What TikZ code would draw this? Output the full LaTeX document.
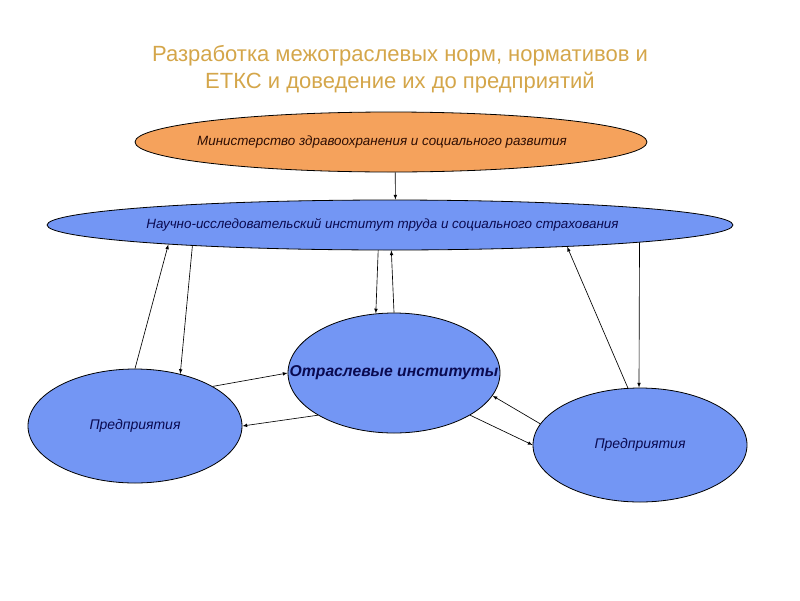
\documentclass[tikz,border=0pt]{standalone}
\usepackage{fontspec}
\setmainfont{Liberation Sans}
\usetikzlibrary{shapes.geometric}

\definecolor{titlegold}{HTML}{D4A64A}
\definecolor{ovalblue}{HTML}{7396F4}
\definecolor{ovalorange}{HTML}{F5A25C}
\definecolor{inknavy}{HTML}{0A0A50}
\definecolor{inkbrown}{HTML}{2E0E04}

\tikzset{
  oval/.style={ellipse, draw=black, line width=0.8pt, inner sep=0pt},
  blueoval/.style={oval, fill=ovalblue, text=inknavy},
  link/.style={-latex, line width=0.65pt},
}

\begin{document}
\begin{tikzpicture}[x=1pt,y=-1pt]
\useasboundingbox (0,0) rectangle (800,600);
\node[text=titlegold, font=\fontsize{22}{27}\selectfont, align=center] (title) at (400,69)
   {Разработка межотраслевых норм, нормативов и\\ЕТКС и доведение их до предприятий};
\node[oval, fill=ovalorange, text=inkbrown, minimum width=512pt, minimum height=60pt,
   font=\fontsize{13.4}{15}\selectfont\itshape] (min) at (391,142)
   {\makebox[0pt]{Министерство здравоохранения и социального развития\hspace{18pt}}};
\node[blueoval, minimum width=686pt, minimum height=50pt,
   font=\fontsize{13.4}{15}\selectfont\itshape] (nii) at (390,225)
   {\makebox[0pt]{Научно-исследовательский институт труда и социального страхования\hspace{15pt}}};
\node[blueoval, minimum width=212pt, minimum height=120pt,
   font=\fontsize{15.7}{18}\selectfont\bfseries\itshape] (otr) at (394,373)
   {\makebox[0pt]{Отраслевые институты}};
\node[blueoval, minimum width=214pt, minimum height=114pt,
   font=\fontsize{14}{16}\selectfont\itshape] (lp) at (135,426) {Предприятия};
\node[blueoval, minimum width=214pt, minimum height=114pt,
   font=\fontsize{14}{16}\selectfont\itshape] (rp) at (640,445) {Предприятия};
% ministry to institute
\draw[link] (min.-82.4) -- (nii.78.7);
% left side
\draw[link] (lp.90) -- (nii.-175.2);
\draw[link] (nii.-174.1) -- (lp.49);
% middle
\draw[link] (nii.-115.7) -- (otr.107.8);
\draw[link] (otr.90) -- (nii.-87.7);
% right side
\draw[link] (rp.102) -- (nii.-7);
\draw[link] (nii.-4.15) -- (rp.91);
% between the lower ovals
\draw[link] (lp.27) -- (otr.180);
\draw[link] (otr.-151.2) -- (lp.0);
\draw[link] (rp.168.9) -- (otr.-13);
\draw[link] (otr.-29.5) -- (rp.180);
\end{tikzpicture}
\end{document}
